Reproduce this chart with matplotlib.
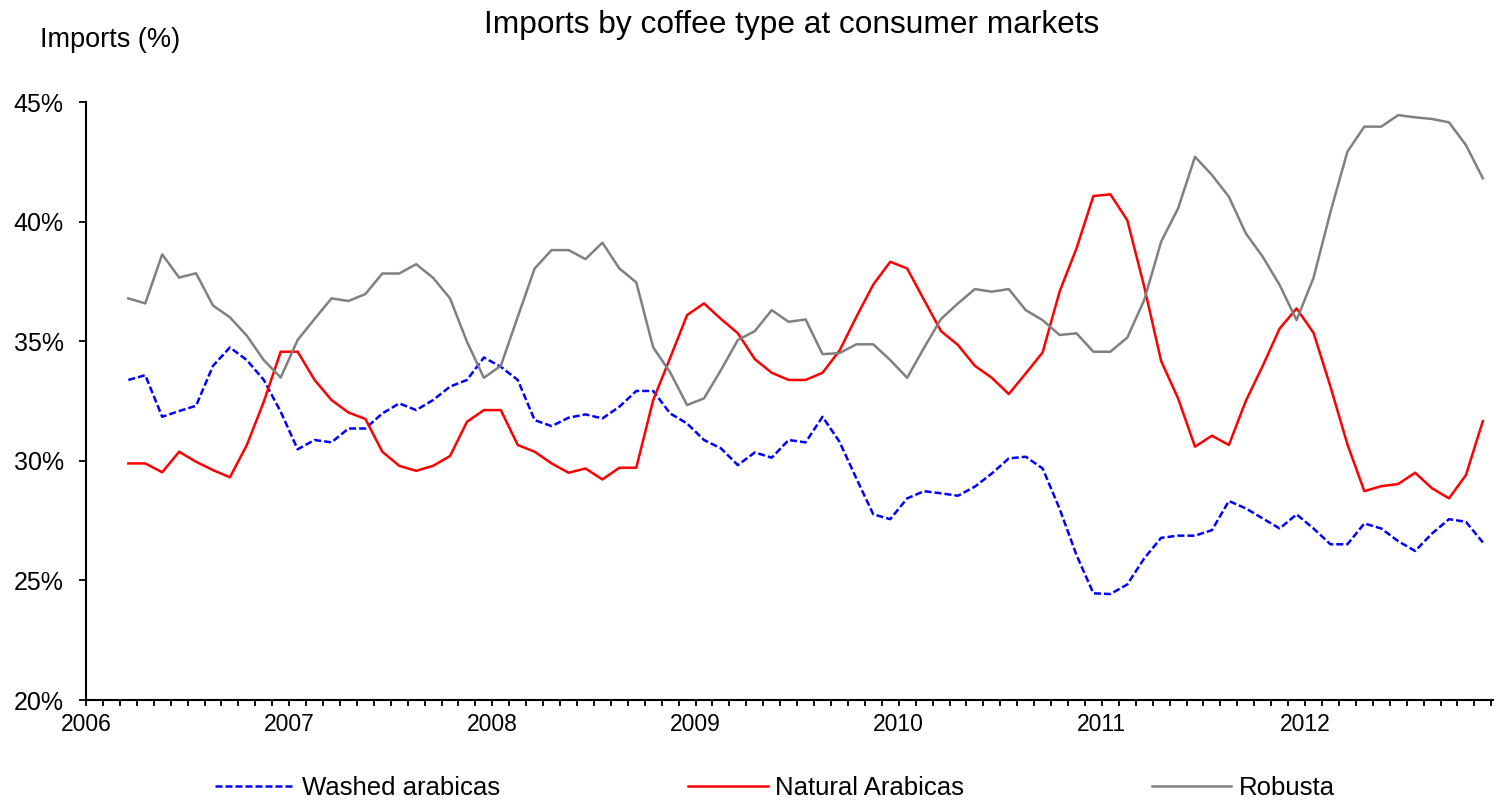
import numpy as np
import pandas as pd
import matplotlib
matplotlib.use("Agg")
import matplotlib.pyplot as plt
from matplotlib.ticker import MultipleLocator, FixedLocator, FuncFormatter

plt.rcParams['font.family'] = ['Liberation Sans', 'DejaVu Sans']

# ---- data (monthly shares, %), March 2006 .. November 2012 ----
start_month = "2006-03"
washed = [33.38, 33.58, 31.84, 32.08, 32.30, 33.97, 34.74, 34.21, 33.38, 32.05,
          30.48, 30.87, 30.77, 31.35, 31.35, 31.98, 32.40, 32.12, 32.54, 33.10, 33.38, 34.32,
          33.93, 33.38, 31.70, 31.45, 31.80, 31.94, 31.77, 32.26, 32.92, 32.92, 31.98, 31.56,
          30.87, 30.52, 29.82, 30.35, 30.13, 30.87, 30.77, 31.84, 30.80, 29.26, 27.76, 27.56,
          28.43, 28.73, 28.64, 28.54, 28.92, 29.47, 30.10, 30.17, 29.68, 28.00, 26.06, 24.46,
          24.43, 24.83, 25.92, 26.78, 26.87, 26.87, 27.10, 28.32, 28.01, 27.59, 27.17, 27.76,
          27.17, 26.51, 26.51, 27.38, 27.17, 26.64, 26.23, 26.96, 27.56, 27.45, 26.59]
natural = [29.89, 29.89, 29.52, 30.38, 29.96, 29.61, 29.31, 30.66, 32.47, 34.56,
           34.56, 33.38, 32.54, 32.02, 31.75, 30.38, 29.79, 29.58, 29.79, 30.20, 31.63, 32.12,
           32.12, 30.66, 30.38, 29.89, 29.50, 29.68, 29.22, 29.71, 29.71, 32.54, 34.30, 36.09,
           36.58, 35.93, 35.33, 34.25, 33.68, 33.38, 33.38, 33.68, 34.60, 36.02, 37.37, 38.32,
           38.04, 36.72, 35.42, 34.84, 33.97, 33.47, 32.79, 33.65, 34.53, 37.07, 38.88, 41.07,
           41.14, 40.06, 37.28, 34.17, 32.61, 30.59, 31.05, 30.66, 32.50, 33.97, 35.53, 36.37,
           35.35, 33.10, 30.69, 28.73, 28.94, 29.03, 29.50, 28.85, 28.43, 29.40, 31.66]
robusta = [36.79, 36.58, 38.63, 37.66, 37.84, 36.49, 36.00, 35.23, 34.21, 33.48,
           35.05, 35.93, 36.79, 36.68, 36.97, 37.83, 37.83, 38.22, 37.65, 36.79, 34.98, 33.47,
           33.97, 36.02, 38.04, 38.81, 38.81, 38.43, 39.12, 38.04, 37.46, 34.74, 33.70, 32.33,
           32.61, 33.79, 35.05, 35.42, 36.30, 35.81, 35.91, 34.46, 34.50, 34.87, 34.87, 34.21,
           33.47, 34.73, 35.93, 36.58, 37.18, 37.07, 37.18, 36.30, 35.88, 35.26, 35.33, 34.56,
           34.56, 35.15, 36.72, 39.16, 40.55, 42.71, 41.95, 41.04, 39.51, 38.53, 37.35, 35.88,
           37.65, 40.40, 42.92, 43.97, 43.97, 44.45, 44.36, 44.29, 44.15, 43.20, 41.81]
series_names = ["Washed arabicas", "Natural Arabicas", "Robusta"]
year_labels = ["2006", "2007", "2008", "2009", "2010", "2011", "2012"]
title = "Imports by coffee type at consumer markets"
y_title = "Imports (%)"

months = pd.period_range(start_month, periods=len(washed), freq="M")
base_year = int(year_labels[0])
# position in months since January of the first year, plotted mid-month
xpos = (months.year - base_year) * 12 + (months.month - 1) + 0.5

W, H = 1497, 802
fig = plt.figure(figsize=(W / 100, H / 100), dpi=100)
ax = fig.add_axes([86 / W, 1 - 700 / H, (1493 - 86) / W, (700 - 102) / H])

ax.plot(xpos, washed, color="#0000FF", lw=1.8, ls=(0, (2.8, 1.2)), label=series_names[0])
ax.plot(xpos, natural, color="#FF0000", lw=1.8, label=series_names[1])
ax.plot(xpos, robusta, color="#808080", lw=1.8, label=series_names[2])

ax.set_xlim(0, 83.1)
ax.set_ylim(20, 45)

ax.yaxis.set_major_locator(MultipleLocator(5))
ax.yaxis.set_major_formatter(FuncFormatter(lambda v, p: f"{v:.0f}%"))
ax.xaxis.set_major_locator(FixedLocator(np.arange(0, 12 * len(year_labels), 12)))
ax.set_xticklabels(year_labels)
ax.xaxis.set_minor_locator(MultipleLocator(1))

for s in ("top", "right"):
    ax.spines[s].set_visible(False)
for s in ("left", "bottom"):
    ax.spines[s].set_linewidth(1.5)
    ax.spines[s].set_color("black")

ax.tick_params(axis="x", which="both", direction="out", length=4.5, width=1.3,
               labelsize=16.5, pad=5)
ax.tick_params(axis="y", which="major", direction="out", length=5, width=1.3,
               labelsize=18, pad=11)

fig.text(792 / W, 1 - 25 / H, title, ha="center", va="center", fontsize=22.8)
fig.text(40 / W, 1 - 40 / H, y_title, ha="left", va="center", fontsize=19.5)

fig.legend(loc="center", bbox_to_anchor=(775 / W, 1 - 788 / H), ncol=3,
           frameon=False, fontsize=18.5, handlelength=3.1, handletextpad=0.3,
           columnspacing=7.3, borderaxespad=0)

fig.savefig("out.png", dpi=100)
